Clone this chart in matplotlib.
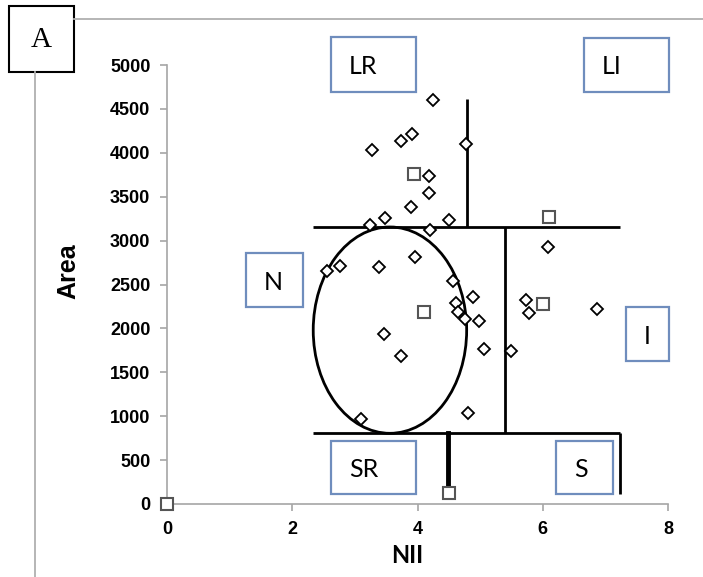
import numpy as np
import matplotlib.pyplot as plt
from matplotlib.patches import Ellipse, Rectangle
from matplotlib.lines import Line2D

plt.rcParams['font.family'] = ['Liberation Sans', 'DejaVu Sans']

# diamonds: individual cases
nii = [4.24, 3.92, 3.74, 3.28, 4.77, 4.18, 4.18, 3.89, 3.48, 3.24, 4.50, 4.20,
       2.55, 2.77, 3.39, 3.96, 4.56, 4.88, 4.61, 4.65, 4.76, 4.98, 5.06, 3.47,
       3.74, 3.10, 4.80, 6.08, 5.73, 5.78, 6.87, 5.50]
area = [4604, 4211, 4131, 4028, 4100, 3732, 3542, 3379, 3254, 3178, 3235, 3117,
        2658, 2715, 2696, 2817, 2540, 2354, 2286, 2191, 2107, 2084, 1762, 1933,
        1682, 964, 1036, 2923, 2323, 2171, 2221, 1743]

# squares: group means
nii_sq = [0, 3.95, 4.10, 6.00, 6.10, 4.51]
area_sq = [0, 3759, 2187, 2278, 3265, 122]

# thresholds of the classification regions
area_hi, area_lo = 3155, 805
nii_left, nii_right = 2.33, 7.24
nii_split_hi, nii_split_mid, nii_split_lo = 4.79, 5.39, 4.49
area_top, area_sr_end, area_s_end = 4613, 160, 114

# normal ellipse
ell_center = (3.56, 1980)
ell_w, ell_h = 2.45, 2350

region_labels = ['LR', 'LI', 'N', 'I', 'SR', 'S']

W, H = 703, 577
fig = plt.figure(figsize=(W / 100, H / 100), dpi=100)
ax = fig.add_axes([167 / W, 73 / H, 501 / W, 439 / H])

k = dict(color='black', lw=2, solid_capstyle='butt', zorder=2)
ax.plot([nii_left, nii_right], [area_hi, area_hi], **k)
ax.plot([nii_left, nii_right], [area_lo, area_lo], **k)
ax.plot([nii_split_hi, nii_split_hi], [area_hi, area_top], **k)
ax.plot([nii_split_mid, nii_split_mid], [area_lo, area_hi], **k)
ax.plot([nii_right, nii_right], [area_s_end, area_lo], **k)
ax.plot([nii_split_lo, nii_split_lo], [area_sr_end, area_lo], color='black', lw=3.5, zorder=2)

ax.add_patch(Ellipse(ell_center, ell_w, ell_h, fill=False, ec='black', lw=2, zorder=2))

ax.plot(nii, area, ls='none', marker='D', ms=6, mfc='white', mec='black', mew=1.3,
        zorder=4, clip_on=False)
ax.plot(nii_sq, area_sq, ls='none', marker='s', ms=9, mfc='white', mec='#555555', mew=1.5,
        zorder=4, clip_on=False)

ax.set_xlim(0, 8)
ax.set_ylim(0, 5000)
ax.set_xticks([0, 2, 4, 6, 8])
ax.set_yticks(np.arange(0, 5001, 500))
for s in ['top', 'right']:
    ax.spines[s].set_visible(False)
for s in ['left', 'bottom']:
    ax.spines[s].set_color('#a6a6a6')
    ax.spines[s].set_linewidth(1.2)
ax.tick_params(direction='out', length=5, width=1.2, color='#a6a6a6', pad=7,
               labelsize=13)
for t in ax.get_xticklabels() + ax.get_yticklabels():
    t.set_fontweight('bold')

ax.set_ylabel('Area', fontsize=18, fontweight='bold')
ax.yaxis.set_label_coords(-0.172, 0.53)
ax.set_xlabel('NII', fontsize=17, family=['Lato', 'DejaVu Sans'], fontweight='bold')
ax.xaxis.set_label_coords(0.479, -0.09)


def px_rect(l, t, r, b, **kw):
    rect = Rectangle((l / W, 1 - b / H), (r - l) / W, (b - t) / H,
                     transform=fig.transFigure, fill=False, **kw)
    fig.add_artist(rect)


boxes = [(331, 37, 416, 92), (584, 38, 669, 92), (246, 253, 303, 307),
         (626, 307, 669, 361), (331, 441, 416, 494), (556, 441, 613, 494)]
for lab, (l, t, r, b) in zip(region_labels, boxes):
    px_rect(l, t, r, b, ec='#6f8dbd', lw=1.6)
    fig.text((l + 18) / W, 1 - ((t + b) / 2 + 2) / H, lab, ha='left', va='center',
             fontsize=18, family=['Lato', 'DejaVu Sans'])

# panel letter and frame
px_rect(9, 6, 74, 72, ec='black', lw=1.5)
fig.text(41.5 / W, 1 - 40 / H, 'A', ha='center', va='center', fontsize=21,
         family=['Liberation Serif', 'DejaVu Serif'])
fig.add_artist(Line2D([74 / W, 1], [1 - 19 / H, 1 - 19 / H], transform=fig.transFigure,
                      color='#b0b0b0', lw=1.3))
fig.add_artist(Line2D([35 / W, 35 / W], [1 - 72 / H, 0], transform=fig.transFigure,
                      color='#b0b0b0', lw=1.3))

fig.savefig('out.png', dpi=100)
